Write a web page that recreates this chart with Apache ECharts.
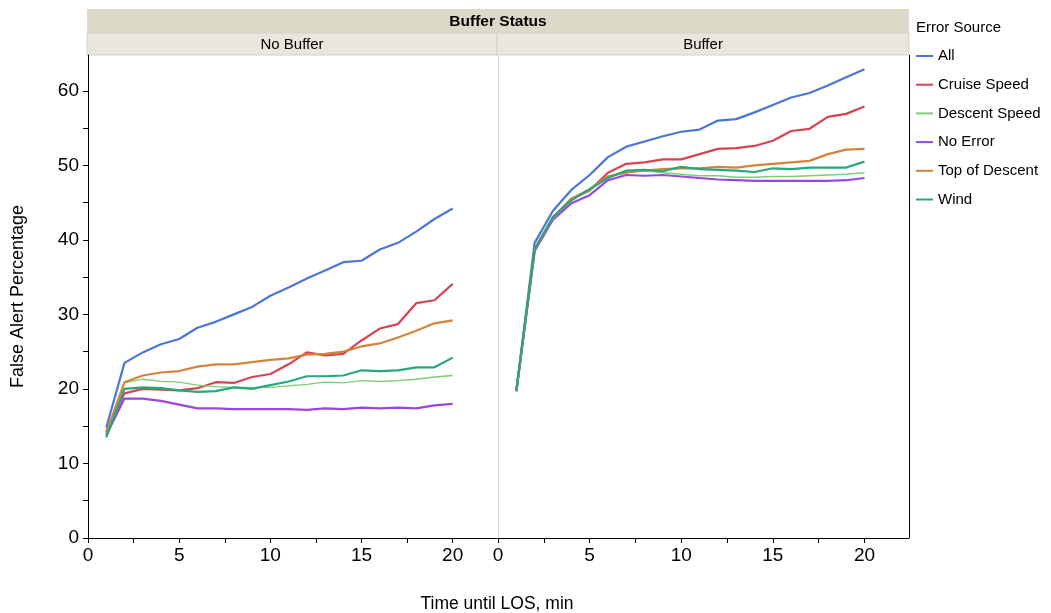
<!DOCTYPE html>
<html><head><meta charset="utf-8">
<script src="https://cdn.jsdelivr.net/npm/echarts@6/dist/echarts.min.js"></script>
<style>html,body{margin:0;padding:0;background:#fff}#c{width:1051px;height:613px}</style>
</head><body><div id="c"></div>
<script>
const timeMin = [1,2,3,4,5,6,7,8,9,10,11,12,13,14,15,16,17,18,19,20];
const sources = ['All','Cruise Speed','Descent Speed','No Error','Top of Descent','Wind'];
const panels = ['No Buffer','Buffer'];
const xTickLabels = [0,5,10,15,20];
const xMinorTicks = [0,2.5,5,7.5,10,12.5,15,17.5,20];
const yTickLabels = [0,10,20,30,40,50,60];
const yMinorTicks = [0,5,10,15,20,25,30,35,40,45,50,55,60];

// No Buffer panel
const noBufAll      = [14.8,23.5,24.9,26.0,26.7,28.2,29.0,30.0,31.0,32.5,33.6,34.8,35.9,37.0,37.2,38.7,39.6,41.1,42.8,44.2];
const noBufCruise   = [14.3,19.4,20.0,19.9,19.8,20.1,20.9,20.8,21.6,22.0,23.3,24.9,24.5,24.7,26.5,28.1,28.7,31.5,31.9,34.1];
const noBufDescent  = [13.8,20.8,21.3,21.0,20.9,20.5,20.3,20.2,20.2,20.2,20.4,20.6,20.9,20.8,21.1,21.0,21.1,21.3,21.6,21.8];
const noBufNoError  = [13.8,18.7,18.7,18.4,17.9,17.4,17.4,17.3,17.3,17.3,17.3,17.2,17.4,17.3,17.5,17.4,17.5,17.4,17.8,18.0];
const noBufTopDesc  = [14.1,20.9,21.8,22.2,22.4,23.0,23.3,23.3,23.6,23.9,24.1,24.6,24.7,25.0,25.7,26.1,26.9,27.8,28.8,29.2];
const noBufWind     = [13.5,20.0,20.2,20.1,19.8,19.6,19.7,20.2,20.0,20.5,21.0,21.7,21.7,21.8,22.5,22.4,22.5,22.9,22.9,24.2];

// Buffer panel
const bufAll      = [19.7,39.6,43.9,46.7,48.7,51.1,52.5,53.2,53.9,54.5,54.8,56.0,56.2,57.1,58.1,59.1,59.7,60.7,61.8,62.9];
const bufCruise   = [19.7,38.8,43.0,45.5,46.6,49.0,50.2,50.4,50.8,50.8,51.5,52.2,52.3,52.6,53.3,54.6,54.9,56.5,56.9,57.9];
const bufDescent  = [19.7,38.7,43.1,45.4,46.6,48.5,49.2,49.3,49.0,48.8,48.6,48.6,48.4,48.4,48.5,48.5,48.6,48.7,48.8,49.0];
const bufNoError  = [19.7,38.5,42.7,44.9,46.0,48.0,48.7,48.6,48.7,48.5,48.3,48.1,48.0,47.9,47.9,47.9,47.9,47.9,48.0,48.3];
const bufTopDesc  = [19.7,38.7,43.0,45.5,46.8,48.5,49.0,49.3,49.5,49.6,49.6,49.8,49.7,50.0,50.2,50.4,50.6,51.5,52.1,52.2];
const bufWind     = [19.7,38.7,43.1,45.3,46.8,48.3,49.3,49.4,49.2,49.8,49.5,49.4,49.3,49.1,49.6,49.5,49.7,49.7,49.7,50.5];

const colors = ['#4a76d9','#d9434f','#7fcd72','#9b45e4','#d4833c','#27a87a'];
const widths = [2.2,2.2,1.3,2.2,2.2,2.2];
const panelData = [
  [noBufAll,noBufCruise,noBufDescent,noBufNoError,noBufTopDesc,noBufWind],
  [bufAll,bufCruise,bufDescent,bufNoError,bufTopDesc,bufWind]
];

const FONT = 'Liberation Sans, Arial, sans-serif';
const series = [];
panelData.forEach((arrs, p) => {
  arrs.forEach((vals, i) => {
    series.push({
      name: sources[i], type: 'line', xAxisIndex: p, yAxisIndex: p,
      data: timeMin.map((t, k) => [t, vals[k]]),
      showSymbol: false, symbol: 'none',
      lineStyle: {color: colors[i], width: widths[i]},
      itemStyle: {color: colors[i]},
      animation: false
    });
  });
});

function xAxis(idx) {
  return {
    type: 'value', gridIndex: idx, min: 0, max: 22.43,
    axisLine: {show: true, lineStyle: {color: '#000', width: 1}},
    axisTick: {show: true, length: 5, customValues: xMinorTicks, lineStyle: {color: '#000'}},
    axisLabel: {customValues: xTickLabels, color: '#000', fontSize: 19, fontFamily: FONT, margin: 8},
    splitLine: {show: false}
  };
}
function yAxis(idx) {
  const left = idx === 0;
  return {
    type: 'value', gridIndex: idx, min: 0, max: 64.8,
    name: left ? 'False Alert Percentage' : '',
    nameLocation: 'middle', nameGap: 61, nameRotate: 90,
    nameTextStyle: {color: '#000', fontSize: 18, fontFamily: FONT},
    axisLine: {show: true, lineStyle: {color: left ? '#000' : '#dcdcdc', width: 1}},
    axisTick: {show: left, length: 5, customValues: yMinorTicks, lineStyle: {color: '#000'}},
    axisLabel: {show: left, customValues: yTickLabels, color: '#000', fontSize: 19, fontFamily: FONT, margin: 9},
    splitLine: {show: false}
  };
}

const option = {
  animation: false,
  backgroundColor: '#fff',
  title: {text: 'Error Source', left: 916, top: 20, padding: 0,
    textStyle: {fontSize: 15, fontWeight: 'normal', color: '#000', fontFamily: FONT}},
  legend: {
    data: sources.map((s, i) => ({name: s, icon: 'rect', itemStyle: {color: colors[i]}})),
    orient: 'vertical', left: 916, top: 47, padding: 0,
    itemWidth: 17, itemHeight: 2, itemGap: 10.7,
    textStyle: {fontSize: 15, color: '#000', fontFamily: FONT, lineHeight: 18},
    selectedMode: false
  },
  grid: [
    {left: 88, top: 55, width: 409, height: 483},
    {left: 498, top: 55, width: 411, height: 483}
  ],
  xAxis: [xAxis(0), xAxis(1)],
  yAxis: [yAxis(0), yAxis(1)],
  series: series,
  graphic: [
    {type: 'rect', shape: {x: 87, y: 9, width: 822, height: 24}, style: {fill: '#dcd9c9'}, silent: true},
    {type: 'rect', shape: {x: 87, y: 33, width: 410, height: 22}, style: {fill: '#e9e7dd', stroke: '#d5d2c3', lineWidth: 1}, silent: true},
    {type: 'rect', shape: {x: 497, y: 33, width: 412, height: 22}, style: {fill: '#e9e7dd', stroke: '#d5d2c3', lineWidth: 1}, silent: true},
    {type: 'text', x: 498, y: 22, style: {text: 'Buffer Status', font: 'bold 15.5px ' + FONT, fill: '#000', textAlign: 'center', textVerticalAlign: 'middle'}, silent: true},
    {type: 'text', x: 292, y: 45, style: {text: panels[0], font: '15px ' + FONT, fill: '#000', textAlign: 'center', textVerticalAlign: 'middle'}, silent: true},
    {type: 'text', x: 703, y: 45, style: {text: panels[1], font: '15px ' + FONT, fill: '#000', textAlign: 'center', textVerticalAlign: 'middle'}, silent: true},
    {type: 'line', shape: {x1: 909.5, y1: 55, x2: 909.5, y2: 538}, style: {stroke: '#000', lineWidth: 1}, silent: true},
    {type: 'text', x: 497, y: 604, style: {text: 'Time until LOS, min', font: '17.5px ' + FONT, fill: '#000', textAlign: 'center', textVerticalAlign: 'middle'}, silent: true}
  ]
};
const chart = echarts.init(document.getElementById('c'), null, {renderer: 'canvas'});
chart.setOption(option);
</script></body></html>
